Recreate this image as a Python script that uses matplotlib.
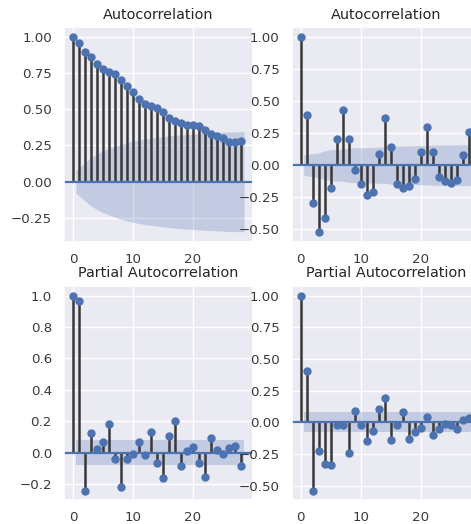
import numpy as np
import matplotlib
matplotlib.use('Agg')
import matplotlib.pyplot as plt
import seaborn as sns

# lags 0..28 for all four panels
lags = list(range(29))

# acf of the raw series
acf_raw = [1.00, 0.958, 0.895, 0.857, 0.815, 0.780, 0.757, 0.741, 0.700, 0.658,
           0.619, 0.573, 0.538, 0.519, 0.510, 0.480, 0.441, 0.422, 0.404, 0.388,
           0.388, 0.381, 0.358, 0.330, 0.314, 0.300, 0.272, 0.272, 0.279]
# confidence band half width (lags 1..28)
band_acf_raw = [0.079, 0.133, 0.166, 0.192, 0.212, 0.229, 0.244, 0.258, 0.270, 0.279,
                0.288, 0.295, 0.301, 0.306, 0.312, 0.316, 0.320, 0.323, 0.327, 0.329,
                0.332, 0.335, 0.337, 0.339, 0.341, 0.343, 0.344, 0.345]

# acf of the differenced series
acf_diff = [1.00, 0.394, -0.292, -0.518, -0.409, -0.176, 0.205, 0.433, 0.205, -0.041,
            -0.145, -0.233, -0.210, 0.089, 0.368, 0.143, -0.145, -0.176, -0.163, -0.111,
            0.101, 0.295, 0.101, -0.093, -0.124, -0.137, -0.119, 0.083, 0.260]
band_acf_diff = [0.079, 0.090, 0.096, 0.112, 0.121, 0.123, 0.125, 0.134, 0.136, 0.136,
                 0.137, 0.139, 0.141, 0.141, 0.147, 0.148, 0.149, 0.150, 0.151, 0.152,
                 0.152, 0.156, 0.156, 0.157, 0.157, 0.158, 0.158, 0.159]

# pacf of the raw series
pacf_raw = [1.00, 0.966, -0.240, 0.127, 0.022, 0.070, 0.181, -0.042, -0.220, -0.042,
            -0.005, 0.070, -0.015, 0.134, -0.064, -0.157, 0.106, 0.204, -0.085, 0.013,
            0.034, -0.064, -0.153, 0.092, 0.017, -0.010, 0.032, 0.043, -0.085]
band_pacf_raw = [0.079] * 28

# pacf of the differenced series
pacf_diff = [1.00, 0.403, -0.537, -0.229, -0.326, -0.339, -0.018, -0.018, -0.242, 0.087,
             -0.024, -0.150, -0.066, 0.108, 0.193, -0.142, -0.024, 0.079, -0.129, -0.079,
             -0.044, 0.043, -0.103, -0.050, -0.013, -0.024, -0.050, 0.021, 0.035]
band_pacf_diff = [0.079] * 28

ytick_acf_raw = [-0.25, 0.0, 0.25, 0.50, 0.75, 1.00]
ytick_quarter = [-0.50, -0.25, 0.0, 0.25, 0.50, 0.75, 1.00]
ytick_pacf_raw = [-0.2, 0.0, 0.2, 0.4, 0.6, 0.8, 1.0]


def plot_corr(ax, values, band, title, yticks, fmt):
    x = np.array(lags)
    y = np.array(values)
    ax.vlines(x, [0], y, colors='#383838', linewidth=1.8)
    ax.axhline(0, color='C0', linewidth=1.6)
    ax.plot(x, y, marker='o', markersize=5, linestyle='None', color='C0')
    # band drawn from lag 0.5 to 28.5 like statsmodels does
    bx = x[1:].astype(float)
    bx[0] -= 0.5
    bx[-1] += 0.5
    b = np.array(band)
    ax.fill_between(bx, -b, b, color='C0', alpha=0.25, linewidth=0)
    ax.margins(0.05)
    ax.set_yticks(yticks)
    ax.set_yticklabels([fmt.format(t).replace('-', '\u2212') for t in yticks])
    ax.set_title(title, fontsize=10.4, pad=6)
    ax.tick_params(axis='both', labelsize=9.6, length=0, labelcolor='#3a3a3a')
    ax.tick_params(axis='y', pad=9)
    ax.tick_params(axis='x', pad=8)


sns.set_theme(style='darkgrid', palette='deep')
plt.rcParams['font.family'] = ['DejaVu Sans']

fig = plt.figure(figsize=(4.71, 5.24), dpi=100)
w, h = 0.3996, 0.4094
ax1 = fig.add_axes([0.1367, 0.5391, w, h])
ax2 = fig.add_axes([0.6204, 0.5391, w, h])
ax3 = fig.add_axes([0.1367, 0.0452, w, h])
ax4 = fig.add_axes([0.6204, 0.0452, w, h])

plot_corr(ax1, acf_raw, band_acf_raw, 'Autocorrelation', ytick_acf_raw, '{:.2f}')
plot_corr(ax2, acf_diff, band_acf_diff, 'Autocorrelation', ytick_quarter, '{:.2f}')
plot_corr(ax3, pacf_raw, band_pacf_raw, 'Partial Autocorrelation', ytick_pacf_raw, '{:.1f}')
plot_corr(ax4, pacf_diff, band_pacf_diff, 'Partial Autocorrelation', ytick_quarter, '{:.2f}')

fig.savefig('out.png', dpi=100)
